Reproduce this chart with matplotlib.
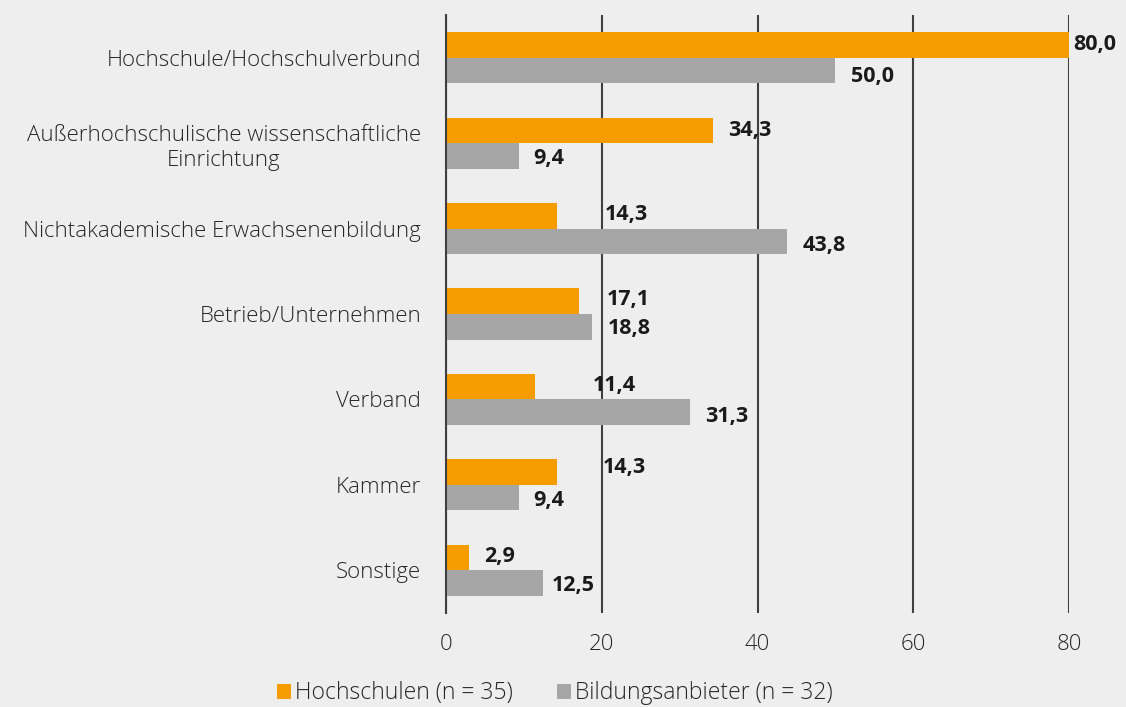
import matplotlib.pyplot as plt
import numpy as np

categories = ['Hochschule/Hochschulverbund',
              'Außerhochschulische wissenschaftliche\nEinrichtung',
              'Nichtakademische Erwachsenenbildung',
              'Betrieb/Unternehmen',
              'Verband',
              'Kammer',
              'Sonstige']
hochschulen = [80.0, 34.3, 14.3, 17.1, 11.4, 14.3, 2.9]
anbieter = [50.0, 9.4, 43.8, 18.8, 31.3, 9.4, 12.5]
series_names = ['Hochschulen (n = 35)', 'Bildungsanbieter (n = 32)']
xticks = [0, 20, 40, 60, 80]

# label shifts in points (manually placed in the original)
dx_h = [3, 11, 34, 20, 42, 33, 11]
dx_a = [11, 10, 11, 11, 11, 10, 6]
dy_h = [0, 0, 1, 1, 1, 3, 1]
dy_a = [-4, -2, -3, -1, -3, -2, -2]

bg = '#eeeeee'
orange = '#f59c00'
grey = '#a6a6a6'
dark = '#1a1a1a'

plt.rcParams['font.family'] = ['Open Sans', 'DejaVu Sans']

fig = plt.figure(figsize=(11.26, 7.07), dpi=100, facecolor=bg)
ax = fig.add_axes([446 / 1126, 1 - 613 / 707, (1069 - 446) / 1126, (613 - 15) / 707])
ax.set_facecolor(bg)

y = np.arange(len(categories))
h = 0.30
ax.barh(y - h / 2, hochschulen, height=h, color=orange, label=series_names[0], zorder=3)
ax.barh(y + h / 2, anbieter, height=h, color=grey, label=series_names[1], zorder=3)

for i in range(len(categories)):
    ax.annotate(f'{hochschulen[i]:.1f}'.replace('.', ','), (hochschulen[i], y[i] - h / 2),
                xytext=(dx_h[i], dy_h[i]), textcoords='offset points',
                ha='left', va='center', fontsize=15.5, fontweight='bold', color=dark,
                annotation_clip=False)
    ax.annotate(f'{anbieter[i]:.1f}'.replace('.', ','), (anbieter[i], y[i] + h / 2),
                xytext=(dx_a[i], dy_a[i]), textcoords='offset points',
                ha='left', va='center', fontsize=15.5, fontweight='bold', color=dark,
                annotation_clip=False)

ax.set_xlim(0, 80)
ax.set_ylim(len(categories) - 0.5, -0.5)
ax.set_xticks(xticks)
ax.set_xticklabels([str(t) for t in xticks], fontweight='light')
ax.set_yticks(y)
ax.set_yticklabels(categories, ha='right', multialignment='center',
                   fontweight='light', linespacing=1.3)
ax.tick_params(axis='both', length=0, labelsize=16, colors='#262626')
ax.tick_params(axis='x', pad=15)
ax.tick_params(axis='y', pad=18)
ax.grid(axis='x', color='#404040', linewidth=1.5, zorder=1)
for s in ['top', 'right', 'bottom']:
    ax.spines[s].set_visible(False)
ax.spines['left'].set_color('#404040')
ax.spines['left'].set_linewidth(1.5)
ax.spines['left'].set_zorder(4)

leg = fig.legend(loc='lower center', bbox_to_anchor=(555 / 1126, -0.027), ncol=2, frameon=False,
                 fontsize=16.5, handlelength=0.6, handleheight=0.6, handletextpad=0.2,
                 columnspacing=1.9, labelcolor='#262626')
for t in leg.get_texts():
    t.set_fontweight('light')

fig.savefig('out.png', dpi=100, facecolor=bg)
